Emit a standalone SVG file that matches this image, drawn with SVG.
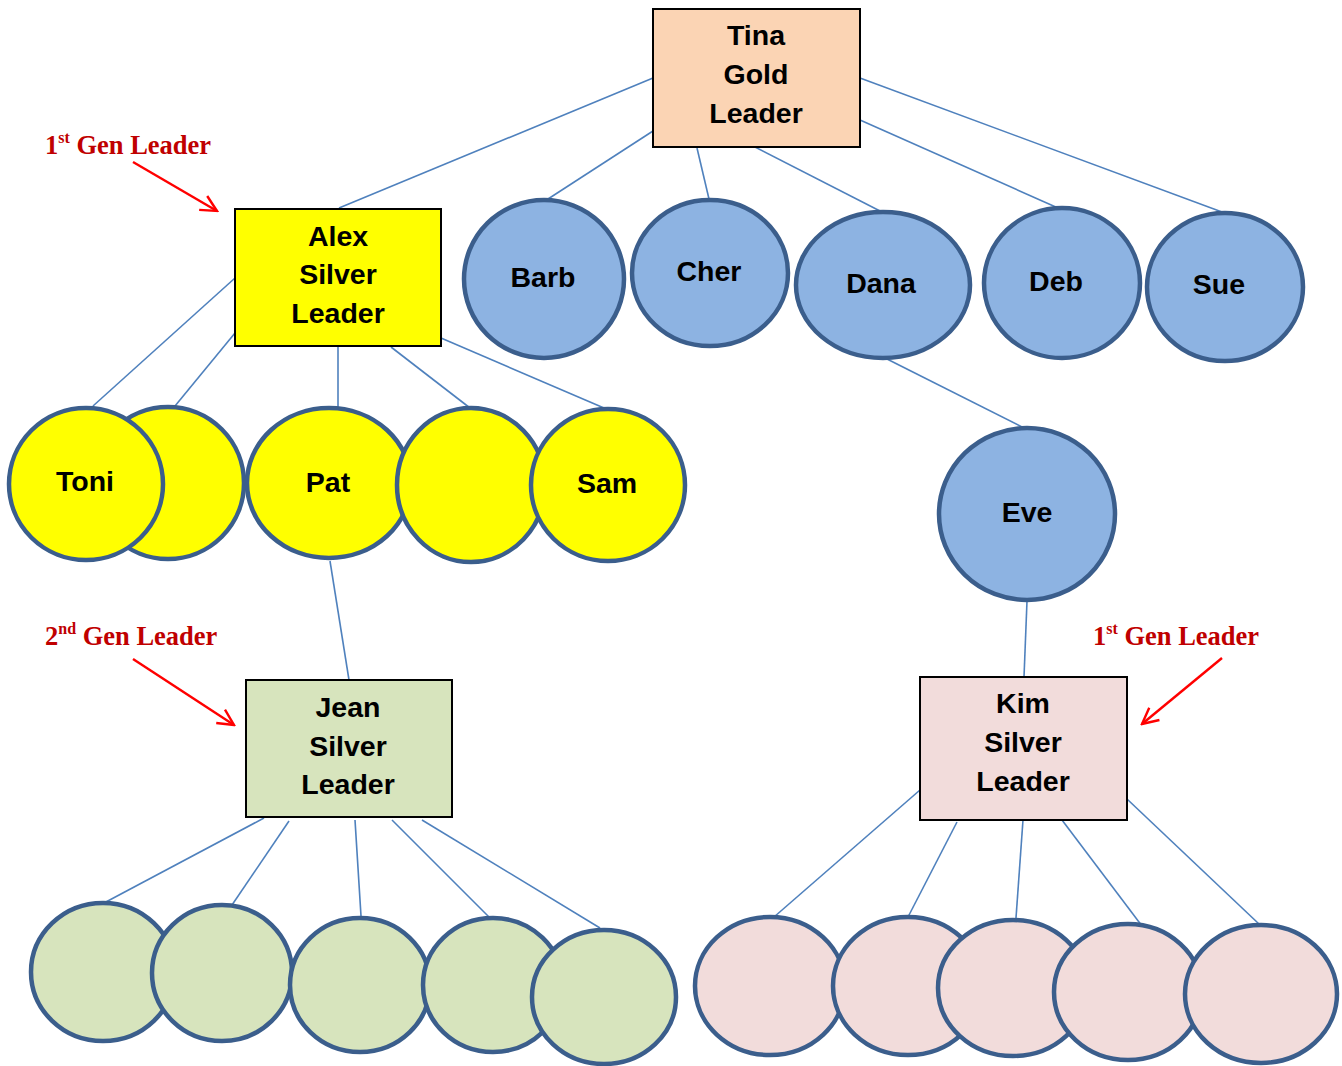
<svg xmlns="http://www.w3.org/2000/svg" width="1342" height="1066" viewBox="0 0 1342 1066">
<style>
.box{stroke:#000;stroke-width:2}
.c{stroke:#3B5E8C;stroke-width:4.5}
.blue{fill:#8DB3E2}
.yel{fill:#FFFF00}
.grn{fill:#D7E4BD}
.pnk{fill:#F2DCDB}
.t{font-family:"Liberation Sans",Arial,sans-serif;font-weight:bold;font-size:28.5px;fill:#000;text-anchor:middle}
.lbl{font-family:"Liberation Serif","Times New Roman",serif;font-weight:bold;font-size:26.5px;fill:#C00000}
.sup{font-size:16px}
.ln{stroke:#4F81BD;stroke-width:1.6;fill:none}
.ar{stroke:#FF0000;stroke-width:2.4;fill:none}
</style>
<defs>
<marker id="arr" viewBox="0 0 20 20" refX="18" refY="10" markerWidth="20" markerHeight="20" markerUnits="userSpaceOnUse" orient="auto">
<path d="M2,2 L18,10 L2,18" fill="none" stroke="#FF0000" stroke-width="2.4"/>
</marker>
</defs>
<rect width="1342" height="1066" fill="#fff"/>
<g id="connectors">
<line class="ln" x1="653" y1="78" x2="339" y2="208"/>
<line class="ln" x1="653" y1="131" x2="548" y2="199"/>
<line class="ln" x1="697" y1="148" x2="709" y2="199"/>
<line class="ln" x1="755" y1="147" x2="880" y2="211"/>
<line class="ln" x1="860" y1="120" x2="1058" y2="208"/>
<line class="ln" x1="860" y1="78" x2="1222" y2="212"/>
<line class="ln" x1="885" y1="358" x2="1024" y2="428"/>
<line class="ln" x1="235" y1="278" x2="93" y2="406"/>
<line class="ln" x1="235" y1="333" x2="175" y2="406"/>
<line class="ln" x1="338" y1="347" x2="338" y2="408"/>
<line class="ln" x1="391" y1="347" x2="470" y2="408"/>
<line class="ln" x1="441" y1="338" x2="604" y2="408"/>
<line class="ln" x1="330" y1="561" x2="349" y2="680"/>
<line class="ln" x1="1027" y1="601" x2="1024" y2="677"/>
<line class="ln" x1="264" y1="818" x2="104" y2="903"/>
<line class="ln" x1="289" y1="821" x2="232" y2="905"/>
<line class="ln" x1="355" y1="820" x2="361" y2="916"/>
<line class="ln" x1="392" y1="820" x2="489" y2="917"/>
<line class="ln" x1="422" y1="820" x2="600" y2="928"/>
<line class="ln" x1="920" y1="790" x2="774" y2="917"/>
<line class="ln" x1="957" y1="822" x2="908" y2="917"/>
<line class="ln" x1="1023" y1="820" x2="1016" y2="918"/>
<line class="ln" x1="1062" y1="820" x2="1145" y2="930"/>
<line class="ln" x1="1127" y1="799" x2="1259" y2="924"/>
</g>
<g id="tina"><rect class="box" x="653" y="9" width="207" height="138" fill="#FBD4B4"/>
<text class="t" x="756" y="45">Tina</text><text class="t" x="756" y="84">Gold</text><text class="t" x="756" y="123">Leader</text></g>
<g id="alex"><rect class="box" x="235" y="209" width="206" height="137" fill="#FFFF00"/>
<text class="t" x="338" y="246">Alex</text><text class="t" x="338" y="284">Silver</text><text class="t" x="338" y="323">Leader</text></g>
<g id="jean"><rect class="box" x="246" y="680" width="206" height="137" fill="#D7E4BD"/>
<text class="t" x="348" y="717">Jean</text><text class="t" x="348" y="756">Silver</text><text class="t" x="348" y="794">Leader</text></g>
<g id="kim"><rect class="box" x="920" y="677" width="207" height="143" fill="#F2DCDB"/>
<text class="t" x="1023" y="713">Kim</text><text class="t" x="1023" y="752">Silver</text><text class="t" x="1023" y="791">Leader</text></g>
<g id="barb"><ellipse class="c blue" cx="544" cy="279" rx="80" ry="79"/><text class="t" x="543" y="287">Barb</text></g>
<g id="cher"><ellipse class="c blue" cx="710" cy="273" rx="78" ry="73"/><text class="t" x="709" y="281">Cher</text></g>
<g id="dana"><ellipse class="c blue" cx="883" cy="285" rx="87" ry="73"/><text class="t" x="881" y="293">Dana</text></g>
<g id="deb"><ellipse class="c blue" cx="1062" cy="283" rx="78" ry="75"/><text class="t" x="1056" y="291">Deb</text></g>
<g id="sue"><ellipse class="c blue" cx="1225" cy="287" rx="78" ry="74"/><text class="t" x="1219" y="294">Sue</text></g>
<g id="eve"><ellipse class="c blue" cx="1027" cy="514" rx="88" ry="86"/><text class="t" x="1027" y="522">Eve</text></g>
<g id="yellow2"><ellipse class="c yel" cx="168" cy="483" rx="76" ry="76"/></g>
<g id="toni"><ellipse class="c yel" cx="86" cy="484" rx="77" ry="76"/><text class="t" x="85" y="491">Toni</text></g>
<g id="pat"><ellipse class="c yel" cx="329" cy="483" rx="82" ry="75"/><text class="t" x="328" y="492">Pat</text></g>
<g id="yellow4"><ellipse class="c yel" cx="471" cy="485" rx="74" ry="77"/></g>
<g id="sam"><ellipse class="c yel" cx="608" cy="485" rx="77" ry="76"/><text class="t" x="607" y="493">Sam</text></g>
<g id="green1"><ellipse class="c grn" cx="103" cy="972" rx="72" ry="69"/></g>
<g id="green2"><ellipse class="c grn" cx="222" cy="973" rx="70" ry="68"/></g>
<g id="green3"><ellipse class="c grn" cx="360" cy="985" rx="70" ry="67"/></g>
<g id="green4"><ellipse class="c grn" cx="493" cy="985" rx="70" ry="67"/></g>
<g id="green5"><ellipse class="c grn" cx="604" cy="997" rx="72" ry="67"/></g>
<g id="pink1"><ellipse class="c pnk" cx="770" cy="986" rx="75" ry="69"/></g>
<g id="pink2"><ellipse class="c pnk" cx="908" cy="986" rx="75" ry="69"/></g>
<g id="pink3"><ellipse class="c pnk" cx="1013" cy="988" rx="75" ry="68"/></g>
<g id="pink4"><ellipse class="c pnk" cx="1128" cy="992" rx="74" ry="68"/></g>
<g id="pink5"><ellipse class="c pnk" cx="1261" cy="994" rx="76" ry="69"/></g>
<g id="label1">
<text class="lbl" x="45" y="154">1<tspan class="sup" dy="-11">st</tspan><tspan dy="11"> Gen Leader</tspan></text>
<line class="ar" x1="133" y1="162" x2="217" y2="211" marker-end="url(#arr)"/>
</g>
<g id="label2">
<text class="lbl" x="45" y="645">2<tspan class="sup" dy="-11">nd</tspan><tspan dy="11"> Gen Leader</tspan></text>
<line class="ar" x1="133" y1="659" x2="234" y2="725" marker-end="url(#arr)"/>
</g>
<g id="label3">
<text class="lbl" x="1093" y="645">1<tspan class="sup" dy="-11">st</tspan><tspan dy="11"> Gen Leader</tspan></text>
<line class="ar" x1="1222" y1="658" x2="1142" y2="724" marker-end="url(#arr)"/>
</g>
</svg>
